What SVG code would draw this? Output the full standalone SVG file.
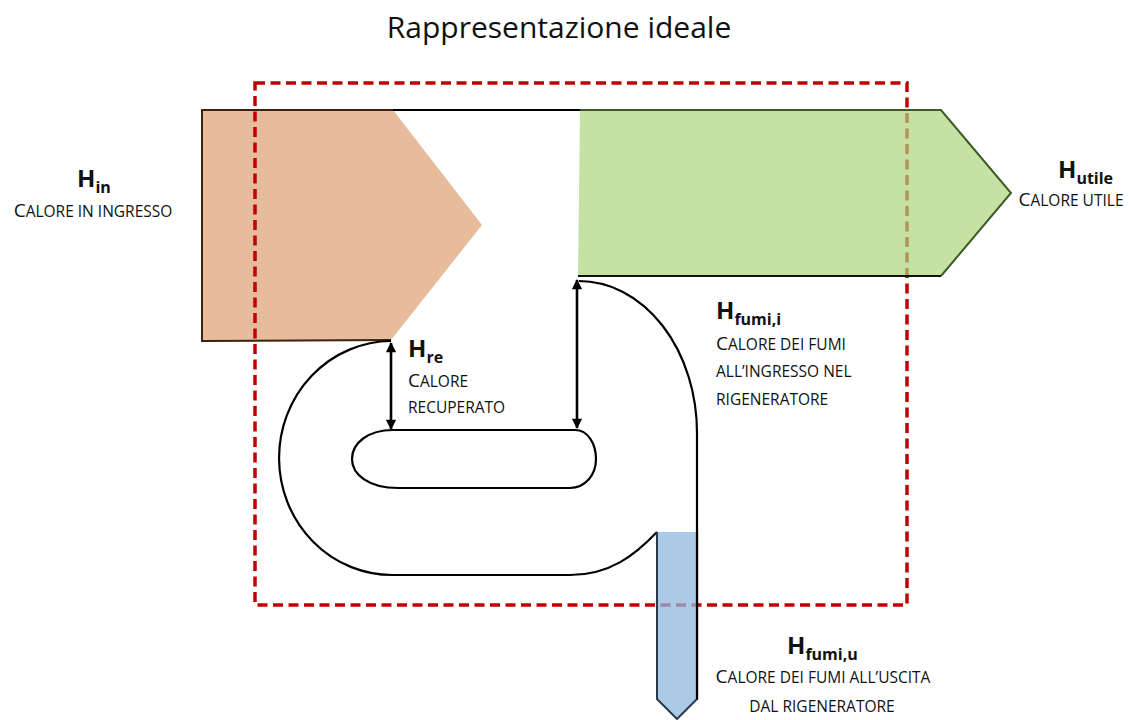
<svg xmlns="http://www.w3.org/2000/svg" width="1129" height="720" viewBox="0 0 1129 720">
<defs>
<marker id="ah" viewBox="0 0 10 10" refX="9" refY="5" markerWidth="4.5" markerHeight="4" orient="auto-start-reverse" markerUnits="strokeWidth">
<path d="M0,0 L10,5 L0,10 Z" fill="#000"/>
</marker>
<style>
text{font-family:"Open Sans","Liberation Sans",sans-serif;fill:#111}
.title{font-size:30px}
.h{font-size:24px;font-weight:bold}
.sub{font-size:16px;font-weight:bold}
.lbl{font-size:15.5px}
.big{font-size:19px}
.ln{fill:none;stroke:#000;stroke-width:2.2}
.arr{fill:none;stroke:#000;stroke-width:2.6;marker-start:url(#ah);marker-end:url(#ah)}
</style>
</defs>
<rect width="1129" height="720" fill="#fff"/>
<text class="title" x="559" y="38" text-anchor="middle">Rappresentazione ideale</text>

<g id="hin">
<polygon points="202,110 393,110 482,225 391,340 202,341" fill="#e6bc9c"/>
<path d="M393,110 L202,110 L202,341 L391,340" fill="none" stroke="#3b2314" stroke-width="2"/>
</g>

<g id="recuperatore">
<path class="ln" d="M393,110 L580,110"/>
<path class="ln" d="M391,341 A 113 117 0 0 0 393 575 L570,575 C 610,575 635,555 657,532"/>
<path class="ln" d="M393,430 L575,430 C 588,430 596,444 596,459 C 596,475 585,488 570,488 L398,488 C 368,488 352,474 352,459 C 352,443 368,430 393,430 Z"/>
<path class="ln" d="M579,281 A 118 152 0 0 1 697 433 L697,700"/>
</g>

<g id="bordo">
<rect x="255" y="83" width="652" height="522" fill="none" stroke="#c00000" stroke-width="3.5" stroke-dasharray="10,5.5"/>
</g>

<g id="hutile">
<polygon points="580,110 941,110 1011,193 941,276 578,276" fill="#acd67e" fill-opacity="0.7"/>
<path d="M580,110 L941,110 L1011,193 L941,276" fill="none" stroke="#3a5a26" stroke-width="2"/>
<path d="M941,276 L578,276" fill="none" stroke="#111" stroke-width="2"/>
</g>

<g id="hfumiu">
<polygon points="657,532 697,532 697,699 677,719 657,699" fill="#8fb8e0" fill-opacity="0.75"/>
<path d="M657,532 L657,699 L677,719 L697,699" fill="none" stroke="#2a3a4a" stroke-width="2"/>
<path d="M697,532 L697,699" fill="none" stroke="#000" stroke-width="2.2"/>
</g>

<g id="connectors">
<line class="arr" x1="391" y1="343" x2="391" y2="429"/>
<line class="arr" x1="577" y1="280" x2="577" y2="428"/>
</g>

<g id="lbl-hin">
<text class="h" x="77" y="187">H<tspan class="sub" dy="6">in</tspan></text>
<text class="lbl" x="93" y="217" text-anchor="middle"><tspan class="big">C</tspan>ALORE IN INGRESSO</text>
</g>
<g id="lbl-hutile">
<text class="h" x="1058" y="178">H<tspan class="sub" dy="6">utile</tspan></text>
<text class="lbl" x="1071" y="206" text-anchor="middle"><tspan class="big">C</tspan>ALORE UTILE</text>
</g>
<g id="lbl-hre">
<text class="h" x="408" y="357">H<tspan class="sub" dy="6">re</tspan></text>
<text class="lbl" x="408" y="387"><tspan class="big">C</tspan>ALORE</text>
<text class="lbl" x="408" y="413">RECUPERATO</text>
</g>
<g id="lbl-hfumii">
<text class="h" x="716" y="319">H<tspan class="sub" dy="6">fumi,i</tspan></text>
<text class="lbl" x="716" y="350"><tspan class="big">C</tspan>ALORE DEI FUMI</text>
<text class="lbl" x="716" y="377">ALL’INGRESSO NEL</text>
<text class="lbl" x="716" y="405">RIGENERATORE</text>
</g>
<g id="lbl-hfumiu">
<text class="h" x="787" y="654">H<tspan class="sub" dy="6">fumi,u</tspan></text>
<text class="lbl" x="823" y="683" text-anchor="middle"><tspan class="big">C</tspan>ALORE DEI FUMI ALL’USCITA</text>
<text class="lbl" x="822" y="712" text-anchor="middle">DAL RIGENERATORE</text>
</g>
</svg>
